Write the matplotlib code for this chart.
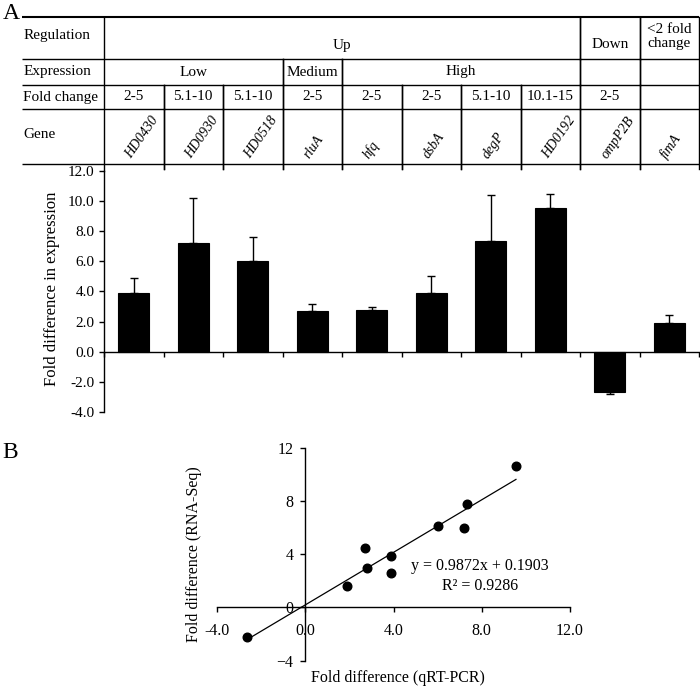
import numpy as np
import matplotlib
matplotlib.use('Agg')
import matplotlib.pyplot as plt
from matplotlib.ticker import FormatStrFormatter

plt.rcParams['font.family'] = ['Liberation Serif', 'DejaVu Serif']
plt.rcParams['font.size'] = 11

## data
genes = ['HD0430', 'HD0930', 'HD0518', 'rluA', 'hfq', 'dsbA', 'degP', 'HD0192', 'ompP2B', 'fimA']
fold_change = ['2-5', '5.1-10', '5.1-10', '2-5', '2-5', '2-5', '5.1-10', '10.1-15', '2-5', '']
regulation = [(0, 8, 'Up'), (8, 9, 'Down'), (9, 10, '<2 fold\nchange')]
expression = [(0, 3, 'Low'), (3, 4, 'Medium'), (4, 8, 'High'), (8, 9, ''), (9, 10, '')]
qpcr = [3.9, 7.2, 6.0, 2.7, 2.8, 3.9, 7.35, 9.55, -2.65, 1.9]
qpcr_err = [1.0, 3.0, 1.6, 0.5, 0.15, 1.15, 3.05, 0.9, 0.15, 0.55]
rnaseq = [3.9, 6.0, 6.1, 4.5, 3.0, 2.6, 7.8, 10.6, -2.2, 1.6]
slope = 0.9872
intercept = 0.1903
r2 = 0.9286

W, H = 700, 688
fig = plt.figure(figsize=(W / 100, H / 100), dpi=100)


def fx(px):
    return px / W


def fy(py):
    return 1 - py / H


# A: bar chart
ax1 = fig.add_axes([fx(104), fy(412), fx(595), 241 / H])
x = np.arange(len(genes)) + 0.5
v = np.array(qpcr)
e = np.array(qpcr_err)
ax1.bar(x, v, width=0.52, color='black', edgecolor='black', linewidth=0.8)
up = np.where(v > 0, e, 0)
down = np.where(v < 0, e, 0)
ax1.errorbar(x, v, yerr=[down, up], fmt='none', ecolor='black', elinewidth=1.0,
             capsize=2.6, capthick=1.0)
ax1.set_xlim(0, 10)
ax1.set_ylim(-4, 12)
ax1.set_yticks(np.arange(-4, 13, 2))
ax1.yaxis.set_major_formatter(FormatStrFormatter('%.1f'))
ax1.set_xticks(np.arange(0, 11))
ax1.set_xticklabels([])
for s in ['top', 'right']:
    ax1.spines[s].set_visible(False)
ax1.spines['bottom'].set_position(('data', 0))
ax1.spines['left'].set_linewidth(1.0)
ax1.spines['bottom'].set_linewidth(1.0)
ax1.tick_params(axis='y', direction='out', length=3.5, width=1.0, pad=3.5, labelsize=11)
ax1.tick_params(axis='x', direction='out', length=3.5, width=1.0)
ax1.text(-0.087, 0.51, 'Fold difference in expression', rotation=90, ha='center', va='center',
         transform=ax1.transAxes, fontsize=12)

# table above the bars (y in pixels from top line)
axt = fig.add_axes([fx(104), fy(164), fx(595), 147 / H])
axt.set_xlim(0, 10)
axt.set_ylim(147, 0)
axt.axis('off')
rows = [0, 42, 68, 92, 147]
left = -1.38
for i, yy in enumerate(rows):
    axt.plot([left, 10], [yy, yy], color='black', lw=1.5 if i == 0 else 1.0,
             clip_on=False, solid_capstyle='butt')
axt.plot([0, 0], [0, 154], color='black', lw=1.0, clip_on=False)
axt.plot([10, 10], [0, 152], color='black', lw=1.0, clip_on=False)


def vlines(spans, top, bottom):
    for a, b, _ in spans:
        for edge in (a, b):
            if 0 < edge < 10:
                axt.plot([edge, edge], [top, bottom], color='black', lw=1.0, clip_on=False)


vlines(regulation, rows[0], rows[1])
vlines(expression, rows[1], rows[2])
cols = [(i, i + 1, '') for i in range(10)]
vlines(cols, rows[2], rows[3])
vlines(cols, rows[3], 152)

tx = left + 0.02
axt.text(tx, 18, 'Regulation', ha='left', va='center')
axt.text(tx, 55, 'Expression', ha='left', va='center')
axt.text(tx, 80, 'Fold change', ha='left', va='center')
axt.text(tx, 118, 'Gene', ha='left', va='center')
for a, b, lab in regulation:
    if '\n' in lab:
        axt.text((a + b) / 2, 19.5, lab, ha='center', va='center', linespacing=1.05)
    else:
        axt.text((a + b) / 2, 28, lab, ha='center', va='center')
for a, b, lab in expression:
    axt.text((a + b) / 2, 55, lab, ha='center', va='center')
for i, lab in enumerate(fold_change):
    axt.text(i + 0.5, 80, lab, ha='center', va='center')
for i, g in enumerate(genes):
    axt.text(i + 0.46, 142, g, ha='left', va='baseline', rotation=55, rotation_mode='anchor',
             fontstyle='italic', fontsize=10)

fig.text(fx(11.5), fy(13.5), 'A', ha='center', va='center', fontsize=17)
fig.text(fx(10), fy(453), 'B', ha='center', va='center', fontsize=17)

# B: scatter
ax2 = fig.add_axes([fx(217), fy(660.7), fx(353), 213 / H])
ax2.plot(qpcr, rnaseq, 'o', color='black', markersize=6.2)
xs = np.array([min(qpcr), max(qpcr)])
ax2.plot(xs, slope * xs + intercept, color='black', lw=0.9)
ax2.set_xlim(-4, 12)
ax2.set_ylim(-4, 12)
ax2.set_xticks([-4, 0, 4, 8, 12])
ax2.set_yticks([-4, 0, 4, 8, 12])
ax2.xaxis.set_major_formatter(FormatStrFormatter('%.1f'))
for s in ['top', 'right']:
    ax2.spines[s].set_visible(False)
ax2.spines['left'].set_position(('data', 0))
ax2.spines['bottom'].set_position(('data', 0))
ax2.spines['left'].set_linewidth(1.0)
ax2.spines['bottom'].set_linewidth(1.0)
ax2.tick_params(axis='y', direction='out', length=3.5, width=1.0, pad=5, labelsize=11.5)
ax2.tick_params(axis='x', direction='out', length=3.5, width=1.0, pad=8, labelsize=11.5)
ax2.text(7.92, 3.11, 'y = %.4fx + %.4f' % (slope, intercept), ha='center', va='center', fontsize=11.5)
ax2.text(7.92, 1.63, 'R² = %.4f' % r2, ha='center', va='center', fontsize=11.5)
ax2.text(-0.065, 0.5, 'Fold difference (RNA-Seq)', rotation=90, ha='center', va='center',
         transform=ax2.transAxes, fontsize=11.5)
ax2.text(0.513, -0.081, 'Fold difference (qRT-PCR)', ha='center', va='center',
         transform=ax2.transAxes, fontsize=11.5)

fig.savefig('out.png', dpi=100)
